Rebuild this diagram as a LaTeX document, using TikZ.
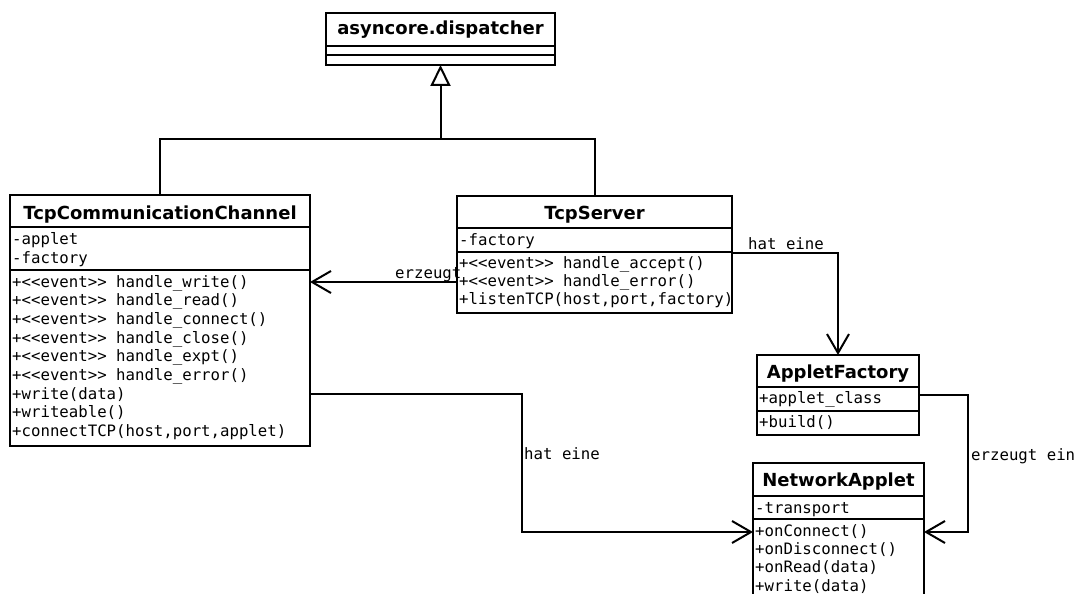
\documentclass[tikz,border=0pt]{standalone}
\usepackage{fontspec}
\setmainfont{DejaVu Sans}
\setmonofont{DejaVu Sans Mono}
\usetikzlibrary{arrows.meta}

\tikzset{
  classbox/.style={draw, line width=2pt, anchor=north west, inner sep=0pt, outer sep=0pt},
  classname/.style={font=\bfseries\fontsize{18}{21}\selectfont, anchor=base, inner sep=0pt},
  member/.style={font=\ttfamily\fontsize{15.7}{18.7}\selectfont, anchor=base west, inner sep=0pt},
  lbl/.style={font=\ttfamily\fontsize{15.7}{18.7}\selectfont, anchor=base west, inner sep=0pt},
  sep/.style={line width=2pt},
  assoc/.style={line width=2pt, -{Straight Barb[length=19pt,width=22pt,line width=2pt]}},
  inherit/.style={line width=2pt, -{Triangle[open,length=21pt,width=20pt,line width=2pt]}}
}

\begin{document}
\begin{tikzpicture}[x=1pt,y=-1pt]
\clip (0,0) rectangle (1074,594);

% ---- asyncore.dispatcher
\node[classbox, minimum width=229pt, minimum height=52pt] (disp) at (326,13) {};
\draw[sep] ([yshift=-33pt]disp.north west) -- ([yshift=-33pt]disp.north east);
\draw[sep] ([yshift=-42pt]disp.north west) -- ([yshift=-42pt]disp.north east);
\node[classname] (disp-name) at (440.5,35) {asyncore.dispatcher};

% ---- TcpCommunicationChannel
\node[classbox, minimum width=300pt, minimum height=251pt] (tcc) at (10,195) {};
\draw[sep] ([yshift=-32pt]tcc.north west) -- ([yshift=-32pt]tcc.north east);
\draw[sep] ([yshift=-75pt]tcc.north west) -- ([yshift=-75pt]tcc.north east);
\node[classname] (tcc-name) at (160,219) {TcpCommunicationChannel};
\node[member] (tcc-a0) at (12,244) {-applet};
\node[member] (tcc-a1) at (12,263) {-factory};
\foreach \m [count=\i from 0] in {
  {+<<event>> handle\_write()},
  {+<<event>> handle\_read()},
  {+<<event>> handle\_connect()},
  {+<<event>> handle\_close()},
  {+<<event>> handle\_expt()},
  {+<<event>> handle\_error()},
  {+write(data)},
  {+writeable()},
  {+connectTCP(host,port,applet)}}
  \node[member] (tcc-op\i) at (12,{287+18.7*\i}) {\m};

% ---- TcpServer
\node[classbox, minimum width=275pt, minimum height=117pt] (ts) at (457,196) {};
\draw[sep] ([yshift=-32pt]ts.north west) -- ([yshift=-32pt]ts.north east);
\draw[sep] ([yshift=-56pt]ts.north west) -- ([yshift=-56pt]ts.north east);
\node[classname] (ts-name) at (594.5,219) {TcpServer};
\node[member] (ts-a0) at (459,245) {-factory};
\node[member] (ts-op0) at (459,268) {+<<event>> handle\_accept()};
\node[member] (ts-op1) at (459,286) {+<<event>> handle\_error()};
\node[member] (ts-op2) at (459,304) {+listenTCP(host,port,factory)};

% ---- AppletFactory
\node[classbox, minimum width=162pt, minimum height=80pt] (af) at (757,355) {};
\draw[sep] ([yshift=-32pt]af.north west) -- ([yshift=-32pt]af.north east);
\draw[sep] ([yshift=-56pt]af.north west) -- ([yshift=-56pt]af.north east);
\node[classname] (af-name) at (838,378) {AppletFactory};
\node[member] (af-a0) at (759,403) {+applet\_class};
\node[member] (af-op0) at (759,427) {+build()};

% ---- NetworkApplet
\node[classbox, minimum width=171pt, minimum height=180pt] (na) at (753,463) {};
\draw[sep] ([yshift=-33pt]na.north west) -- ([yshift=-33pt]na.north east);
\draw[sep] ([yshift=-56pt]na.north west) -- ([yshift=-56pt]na.north east);
\node[classname] (na-name) at (838.5,486) {NetworkApplet};
\node[member] (na-a0) at (755,513) {-transport};
\node[member] (na-op0) at (755,536) {+onConnect()};
\node[member] (na-op1) at (755,554) {+onDisconnect()};
\node[member] (na-op2) at (755,572.5) {+onRead(data)};
\node[member] (na-op3) at (755,591) {+write(data)};

% ---- generalisation
\coordinate (join) at (disp.south |- 0,139);
\draw[line width=2pt] (tcc.north) |- (join) -| (ts.north);
\draw[inherit] (join) -- (disp.south);

% ---- associations
\draw[assoc] (ts.west |- 0,282) -- (tcc.east |- 0,282);
\node[lbl] (l-erzeugt) at (395,278) {erzeugt};

\draw[assoc] (ts.east |- 0,253) -| (af.north);
\node[lbl] (l-hat1) at (748,249) {hat eine};

\draw[assoc] (tcc.east |- 0,394) -- ++(212,0) |- (na.west |- 0,532);
\node[lbl] (l-hat2) at (524,459) {hat eine};

\draw[assoc] (af.east |- 0,395) -- ++(49,0) |- (na.east |- 0,532);
\node[lbl] (l-erzeugt2) at (971,460) {erzeugt ein};
\end{tikzpicture}
\end{document}
